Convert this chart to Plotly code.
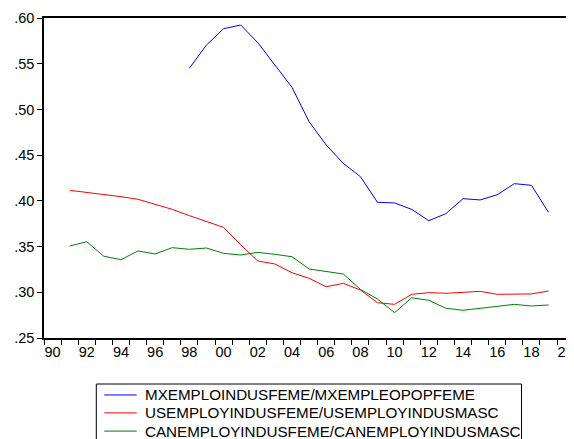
import plotly.graph_objects as go

years_mx = list(range(1998, 2020))
mx_ratio = [0.545, 0.5705, 0.5883, 0.5923, 0.573, 0.5486, 0.5242, 0.4866, 0.4611, 0.441, 0.4265,
            0.3984, 0.3977, 0.3907, 0.3783, 0.386, 0.4024, 0.401, 0.4067, 0.4188, 0.417, 0.3875]

years = list(range(1991, 2020))
us_ratio = [0.4115, 0.4093, 0.4071, 0.4046, 0.4017, 0.3966, 0.3907, 0.3838, 0.3772, 0.371,
            0.352, 0.3342, 0.331, 0.3214, 0.3153, 0.3061, 0.3098, 0.3025, 0.2886, 0.2868,
            0.2978, 0.2996, 0.2989, 0.300, 0.301, 0.2978, 0.2982, 0.2982, 0.3014]
can_ratio = [0.3506, 0.3553, 0.3394, 0.3357, 0.3452, 0.3419, 0.3488, 0.347, 0.3484, 0.3426,
             0.3408, 0.3437, 0.3415, 0.3389, 0.3255, 0.3225, 0.320, 0.3032, 0.2926, 0.2777,
             0.294, 0.2912, 0.2825, 0.2803, 0.2825, 0.285, 0.2868, 0.285, 0.2861]

names = ["MXEMPLOINDUSFEME/MXEMPLEOPOPFEME",
         "USEMPLOYINDUSFEME/USEMPLOYINDUSMASC",
         "CANEMPLOYINDUSFEME/CANEMPLOYINDUSMASC"]
colors = ["#0000FF", "#FF0000", "#008000"]

x_tickvals = list(range(1990, 2021, 2))
x_ticktext = ["90", "92", "94", "96", "98", "00", "02", "04", "06", "08",
              "10", "12", "14", "16", "18", "20"]
y_tickvals = [0.25, 0.30, 0.35, 0.40, 0.45, 0.50, 0.55, 0.60]
y_ticktext = [".25", ".30", ".35", ".40", ".45", ".50", ".55", ".60"]

fig = go.Figure()
fig.add_trace(go.Scatter(x=years_mx, y=mx_ratio, mode="lines", name=names[0],
                         line=dict(color=colors[0], width=1)))
fig.add_trace(go.Scatter(x=years, y=us_ratio, mode="lines", name=names[1],
                         line=dict(color=colors[1], width=1)))
fig.add_trace(go.Scatter(x=years, y=can_ratio, mode="lines", name=names[2],
                         line=dict(color=colors[2], width=1)))

fig.update_xaxes(
    range=[1989.5, 2020.08],
    tickmode="array", tickvals=x_tickvals, ticktext=x_ticktext,
    ticks="", showgrid=False, zeroline=False, ticklabeloverflow="allow",
    showline=True, linecolor="black", linewidth=1.5, mirror=True,
    minor=dict(tickmode="linear", tick0=1989.5, dtick=1, ticks="outside",
               ticklen=5, tickcolor="black", showgrid=False),
    tickfont=dict(size=14.5, color="black"),
)
fig.update_yaxes(
    range=[0.25, 0.60],
    tickmode="array", tickvals=y_tickvals, ticktext=y_ticktext,
    ticks="outside", ticklen=5, tickcolor="black",
    showgrid=False, zeroline=False,
    showline=True, linecolor="black", linewidth=1.5, mirror=False,
    tickfont=dict(size=14.5, color="black"),
)

# legend box drawn by hand (it runs off the bottom of the picture, like the original)
fig.add_shape(type="rect", xref="paper", yref="paper",
              x0=0.1, x1=0.913, y0=-0.34, y1=-0.14375,
              line=dict(color="black", width=1), fillcolor="white", layer="above")
rows_y = [-0.178, -0.234, -0.291]
for nm, col, ry in zip(names, colors, rows_y):
    fig.add_shape(type="line", xref="paper", yref="paper",
                  x0=0.1151, x1=0.1774, y0=ry, y1=ry,
                  line=dict(color=col, width=1), layer="above")
    fig.add_annotation(x=0.1887, y=ry, xref="paper", yref="paper", text=nm,
                       showarrow=False, xanchor="left", yanchor="middle",
                       font=dict(size=15.2, color="black"))

# the page body has an 8px margin, so the figure is 8px smaller on each side
fig.update_layout(
    width=566, height=431,
    margin=dict(l=36, r=0, t=10, b=101),
    paper_bgcolor="white", plot_bgcolor="white",
    font=dict(family="Liberation Sans, Arial, sans-serif", color="black"),
    showlegend=False,
)

fig.write_html("out.html")
